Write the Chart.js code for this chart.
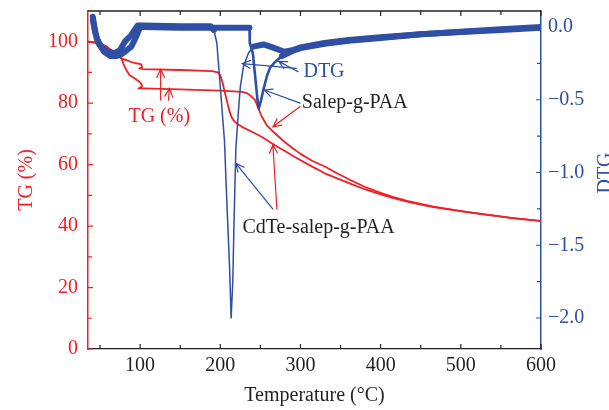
<!DOCTYPE html>
<html>
<head>
<meta charset="utf-8">
<script src="https://cdn.jsdelivr.net/npm/chart.js@4.4.0/dist/chart.umd.min.js"></script>
<style>
  html, body { margin: 0; padding: 0; background: #fff; }
  #wrap { width: 609px; height: 410px; }
</style>
</head>
<body>
<div id="wrap"><canvas id="tga" width="609" height="410"></canvas></div>
<script>
// --- TG curves: temperature (°C) vs residual mass (%) ---
const tgCdteT  = [35, 48, 58, 68, 77, 83, 89, 97.5, 101.5, 102.5, 99, 104, 150, 190, 197, 200, 203, 206, 210, 212, 214, 216, 218.5, 222, 227, 240, 252, 268, 280, 293, 310, 331, 345, 362, 380, 400, 416, 433, 450, 466, 483, 500, 528, 565, 600];
const tgCdteV  = [100, 99.6, 98.5, 96.3, 94.5, 94.0, 93.4, 92.9, 92.6, 91.8, 91.3, 91.1, 90.8, 90.4, 90.0, 89.1, 86.5, 83.2, 78.8, 77.0, 75.5, 74.6, 73.9, 73.1, 72.3, 70.6, 69.0, 66.3, 64.5, 62.5, 60.0, 57.1, 55.6, 53.8, 52.0, 50.3, 49.1, 48.0, 47.0, 46.2, 45.5, 44.9, 43.8, 42.6, 41.6];
const tgSalepT = [35, 48, 58, 68, 77, 79, 83, 87, 93.5, 99.5, 101.5, 102.5, 98, 104, 150, 200, 227, 233, 237, 243.5, 247.5, 252, 258, 266, 281, 290, 300, 315, 331, 345, 362, 380, 400, 416, 433, 450, 466, 483, 500, 528, 565, 600];
const tgSalepV = [100, 99.6, 98.5, 96.3, 94.5, 92.9, 90.7, 89.1, 88.0, 86.9, 86.3, 85.5, 84.8, 84.8, 84.5, 84.1, 83.7, 83.3, 82.6, 81.0, 78.3, 75.5, 72.8, 70.7, 67.2, 65.4, 63.5, 61.2, 59.3, 57.3, 55.0, 52.8, 50.8, 49.4, 48.2, 47.2, 46.3, 45.6, 44.9, 43.9, 42.6, 41.7];

// --- DTG curves ---
const dtgCdteT  = [41, 43, 46, 52, 60, 68, 75, 81, 89, 97, 103, 150, 188, 192, 195.7, 197.7, 200.7, 203.2, 205.2, 208, 211.5, 213.5, 215.6, 217.3, 219.4, 222.7, 225, 229, 235, 241, 254, 265, 280, 290, 300, 330, 360, 400, 450, 500, 550, 600];
const dtgCdteV  = [0.07, 0.0, -0.08, -0.14, -0.17, -0.18, -0.16, -0.10, -0.055, 0.01, 0.01, 0.005, 0.005, -0.02, -0.11, -0.25, -0.46, -0.64, -0.78, -1.18, -1.64, -2.0, -1.75, -1.3, -0.84, -0.57, -0.41, -0.27, -0.18, -0.135, -0.12, -0.14, -0.17, -0.16, -0.14, -0.11, -0.09, -0.07, -0.05, -0.032, -0.015, 0.0];
const dtgSalepT = [41, 44, 48, 55, 63, 70, 76, 81, 89, 95, 100, 104, 150, 200, 236.4, 236.8, 240.6, 243.5, 246.4, 248, 250.6, 253.8, 258, 262, 268.4, 276.8, 290, 300, 330, 360, 400, 450, 500, 550, 600];
const dtgSalepV = [0.05, -0.04, -0.11, -0.17, -0.2, -0.2, -0.19, -0.17, -0.135, -0.067, 0.0, 0.0, -0.005, -0.005, -0.005, -0.11, -0.18, -0.34, -0.50, -0.56, -0.51, -0.43, -0.34, -0.28, -0.24, -0.2, -0.165, -0.145, -0.115, -0.095, -0.075, -0.05, -0.035, -0.02, -0.005];

// --- ticks ---
const xMajor   = [100, 200, 300, 400, 500, 600];
const xMinor   = [50, 150, 250, 350, 450, 550];
const tgMajor  = [0, 20, 40, 60, 80, 100];
const tgMinor  = [10, 30, 50, 70, 90];
const dtgMajor = [0, -0.5, -1, -1.5, -2];
const dtgMinor = [-0.25, -0.75, -1.25, -1.75];

// --- labels and pointer arrows, in (temperature, TG %) units ---
const noteText = ['TG (%)', 'DTG', 'Salep-g-PAA', 'CdTe-salep-g-PAA'];
const noteAt   = [[85.4, 74.0], [303.7, 88.4], [301.7, 78.3], [227.6, 37.65]];
const noteTint = ['red', 'blue', 'ink', 'ink'];
// tail x, tail y, tip x, tip y
const arrows = [
  [125.6, 81.0, 125.6, 91.0],
  [135.3, 81.0, 136.6, 84.8],
  [294.6, 91.35, 227.3, 92.9],
  [297.1, 90.25, 272.8, 93.6],
  [299.6, 80.0, 254.7, 84.3],
  [299.6, 78.9, 265.6, 72.3],
  [265.6, 45.5, 219.4, 60.4],
  [270.6, 45.5, 265.6, 66.4]
];
const arrowTint = ['red', 'red', 'blue', 'blue', 'blue', 'red', 'blue', 'red'];

const COLORS = { red: '#ee2026', blue: '#2e4fa3', ink: '#231f20' };
const FONT = '"Liberation Serif", "Times New Roman", serif';

const pts = (xs, ys) => xs.map((x, i) => ({ x, y: ys[i] }));
// the sharp peaks are drawn thin, the noisy baseline as a wide band
const peakWidth = (lo, hi, w) => ctx =>
  (ctx.p0.parsed.x >= lo && ctx.p1.parsed.x <= hi) ? w : undefined;

const noPad = s => { s.paddingTop = 0; s.paddingBottom = 0; s.paddingLeft = 0; s.paddingRight = 0; };

const decorations = {
  id: 'decorations',
  afterDatasetsDraw(chart) {
    const { ctx, scales: { x, yT } } = chart;
    ctx.save();
    ctx.font = '20px ' + FONT;
    ctx.textAlign = 'left';
    ctx.textBaseline = 'alphabetic';
    noteText.forEach((t, i) => {
      ctx.fillStyle = COLORS[noteTint[i]];
      ctx.fillText(t, x.getPixelForValue(noteAt[i][0]), yT.getPixelForValue(noteAt[i][1]));
    });
    ctx.lineWidth = 1.2;
    ctx.lineCap = 'round';
    arrows.forEach((a, i) => {
      const x0 = x.getPixelForValue(a[0]), y0 = yT.getPixelForValue(a[1]);
      const x1 = x.getPixelForValue(a[2]), y1 = yT.getPixelForValue(a[3]);
      const ang = Math.atan2(y1 - y0, x1 - x0), len = 9, spread = 0.45;
      ctx.strokeStyle = COLORS[arrowTint[i]];
      ctx.beginPath();
      ctx.moveTo(x0, y0);
      ctx.lineTo(x1, y1);
      ctx.moveTo(x1 - len * Math.cos(ang - spread), y1 - len * Math.sin(ang - spread));
      ctx.lineTo(x1, y1);
      ctx.lineTo(x1 - len * Math.cos(ang + spread), y1 - len * Math.sin(ang + spread));
      ctx.stroke();
    });
    ctx.restore();
  },
  afterDraw(chart) {
    const { ctx, chartArea: a, scales: { x, yT, yD } } = chart;
    ctx.save();
    // top frame line
    ctx.strokeStyle = COLORS.ink;
    ctx.lineWidth = 1.3;
    ctx.beginPath();
    ctx.moveTo(a.left, a.top);
    ctx.lineTo(a.right, a.top);
    ctx.stroke();

    // inward tick marks on all four sides
    const tick = (color, list, len, fn) => {
      ctx.strokeStyle = color;
      ctx.lineWidth = 1.2;
      ctx.beginPath();
      list.forEach(v => fn(v, len));
      ctx.stroke();
    };
    const bottomTop = (v, len) => {
      const px = x.getPixelForValue(v);
      ctx.moveTo(px, a.bottom); ctx.lineTo(px, a.bottom - len);
      ctx.moveTo(px, a.top); ctx.lineTo(px, a.top + len);
    };
    tick(COLORS.ink, xMajor, 5, bottomTop);
    tick(COLORS.ink, xMinor, 4, bottomTop);
    const leftSide = (v, len) => {
      const py = yT.getPixelForValue(v);
      ctx.moveTo(a.left, py); ctx.lineTo(a.left + len, py);
    };
    tick(COLORS.red, tgMajor, 5, leftSide);
    tick(COLORS.red, tgMinor, 4, leftSide);
    const rightSide = (v, len) => {
      const py = yD.getPixelForValue(v);
      ctx.moveTo(a.right, py); ctx.lineTo(a.right - len, py);
    };
    tick(COLORS.blue, dtgMajor, 5, rightSide);
    tick(COLORS.blue, dtgMinor, 4, rightSide);

    // right axis title, reading upwards like the left one; runs off the edge
    ctx.fillStyle = COLORS.blue;
    ctx.font = '20px ' + FONT;
    ctx.textAlign = 'center';
    ctx.textBaseline = 'middle';
    ctx.translate(chart.width - 3, (a.top + a.bottom) / 2 - 7);
    ctx.rotate(-Math.PI / 2);
    ctx.fillText('DTG', 0, 0);
    ctx.restore();
  }
};

const lineStyle = { pointRadius: 0, tension: 0, fill: false, borderJoinStyle: 'round', borderCapStyle: 'round' };

new Chart(document.getElementById('tga'), {
  type: 'line',
  data: {
    datasets: [
      { ...lineStyle, data: pts(dtgCdteT, dtgCdteV), yAxisID: 'yD', borderColor: COLORS.blue, borderWidth: 6,
        segment: { borderWidth: peakWidth(192, 241, 1.5) } },
      { ...lineStyle, data: pts(dtgSalepT, dtgSalepV), yAxisID: 'yD', borderColor: COLORS.blue, borderWidth: 6,
        segment: { borderWidth: peakWidth(236.4, 277, 2.6) } },
      { ...lineStyle, data: pts(tgCdteT, tgCdteV), yAxisID: 'yT', borderColor: COLORS.red, borderWidth: 1.8 },
      { ...lineStyle, data: pts(tgSalepT, tgSalepV), yAxisID: 'yT', borderColor: COLORS.red, borderWidth: 1.8 }
    ]
  },
  options: {
    responsive: false,
    animation: false,
    devicePixelRatio: 1,
    layout: { padding: { top: 11, left: 0, right: 0, bottom: 0 } },
    plugins: { legend: { display: false }, tooltip: { enabled: false } },
    scales: {
      x: {
        type: 'linear', min: 35, max: 600,
        afterBuildTicks: s => { s.ticks = xMajor.map(v => ({ value: v })); },
        afterFit: s => { s.height = 61; noPad(s); },
        grid: { display: false, drawTicks: false },
        border: { color: COLORS.ink, width: 1.3 },
        ticks: { color: COLORS.ink, font: { family: FONT, size: 20 }, padding: 5, maxRotation: 0 },
        title: { display: true, text: 'Temperature (°C)', color: COLORS.ink,
                 font: { family: FONT, size: 20 }, padding: { top: 0, bottom: 2 } }
      },
      yT: {
        type: 'linear', position: 'left', min: 0, max: 110,
        afterBuildTicks: s => { s.ticks = tgMajor.map(v => ({ value: v })); },
        afterFit: s => { s.width = 88; noPad(s); },
        grid: { display: false, drawTicks: false },
        border: { color: COLORS.red, width: 1.5 },
        ticks: { color: COLORS.red, font: { family: FONT, size: 20 }, padding: 10 },
        title: { display: true, text: 'TG (%)', color: COLORS.red,
                 font: { family: FONT, size: 20 }, padding: { top: 15, bottom: 0 } }
      },
      yD: {
        type: 'linear', position: 'right', min: -2.213, max: 0.11,
        afterBuildTicks: s => { s.ticks = dtgMajor.map(v => ({ value: v })); },
        afterFit: s => { s.width = 68; noPad(s); },
        grid: { display: false, drawTicks: false, drawOnChartArea: false },
        border: { color: COLORS.blue, width: 1.5 },
        ticks: {
          color: COLORS.blue, font: { family: FONT, size: 20 }, padding: 7,
          callback: v => v === 0 ? '0.0' : '\u2212' + Math.abs(v).toFixed(1)
        }
      }
    }
  },
  plugins: [decorations]
});
</script>
</body>
</html>
